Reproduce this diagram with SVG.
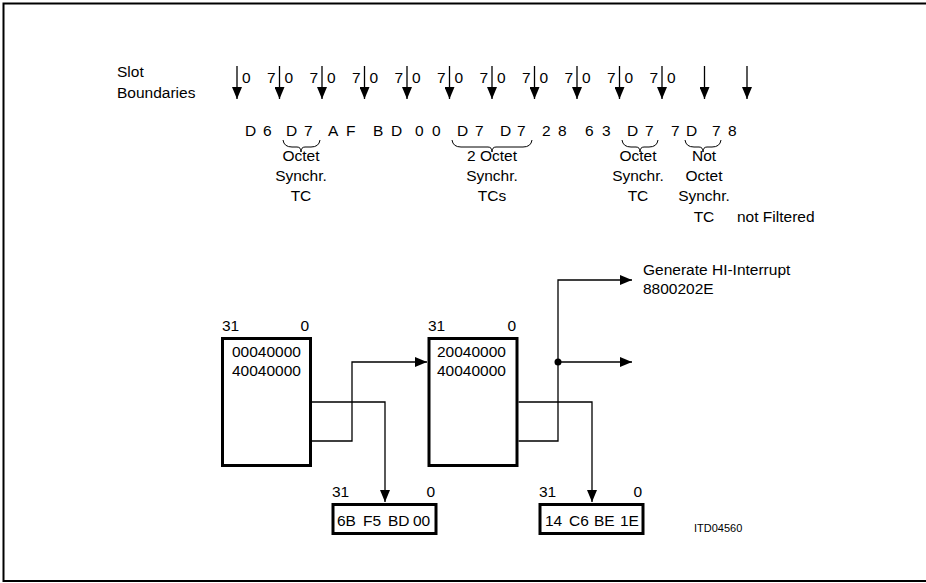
<svg xmlns="http://www.w3.org/2000/svg" width="926" height="583" viewBox="0 0 926 583">
<style>
text{font-family:"Liberation Sans",Arial,sans-serif;font-size:15.5px;fill:#000}
.d{font-size:16px}
.c{text-anchor:middle}
.e{text-anchor:end}
.box{fill:#fff;stroke:#000;stroke-width:3}
.ln{fill:none;stroke:#000;stroke-width:1.3}
.br{fill:none;stroke:#000;stroke-width:1}
</style>
<defs>
<marker id="ah" viewBox="0 0 12 10" refX="12" refY="5" markerWidth="12" markerHeight="10" orient="auto" markerUnits="userSpaceOnUse"><path d="M0,0L12,5L0,10z" fill="#000"/></marker>
</defs>
<path d="M926,3.5H3.5V581H926" fill="none" stroke="#000" stroke-width="2"/>
<g id="slot-label"><text x="117" y="77">Slot</text><text x="117" y="98">Boundaries</text></g>
<g id="slot-arrows" class="ln">
<line x1="237" y1="66" x2="237" y2="99" marker-end="url(#ah)"/>
<line x1="279.5" y1="66" x2="279.5" y2="99" marker-end="url(#ah)"/>
<line x1="322" y1="66" x2="322" y2="99" marker-end="url(#ah)"/>
<line x1="364.5" y1="66" x2="364.5" y2="99" marker-end="url(#ah)"/>
<line x1="407" y1="66" x2="407" y2="99" marker-end="url(#ah)"/>
<line x1="449.5" y1="66" x2="449.5" y2="99" marker-end="url(#ah)"/>
<line x1="492" y1="66" x2="492" y2="99" marker-end="url(#ah)"/>
<line x1="534.5" y1="66" x2="534.5" y2="99" marker-end="url(#ah)"/>
<line x1="577" y1="66" x2="577" y2="99" marker-end="url(#ah)"/>
<line x1="619.5" y1="66" x2="619.5" y2="99" marker-end="url(#ah)"/>
<line x1="662" y1="66" x2="662" y2="99" marker-end="url(#ah)"/>
<line x1="704.5" y1="66" x2="704.5" y2="99" marker-end="url(#ah)"/>
<line x1="747" y1="66" x2="747" y2="99" marker-end="url(#ah)"/>
</g>
<g id="slot-digits" class="d">
<text x="242" y="83">0</text>
<text x="275.5" y="83" class="e">7</text><text x="284.5" y="83">0</text>
<text x="318" y="83" class="e">7</text><text x="327" y="83">0</text>
<text x="360.5" y="83" class="e">7</text><text x="369.5" y="83">0</text>
<text x="403" y="83" class="e">7</text><text x="412" y="83">0</text>
<text x="445.5" y="83" class="e">7</text><text x="454.5" y="83">0</text>
<text x="488" y="83" class="e">7</text><text x="497" y="83">0</text>
<text x="530.5" y="83" class="e">7</text><text x="539.5" y="83">0</text>
<text x="573" y="83" class="e">7</text><text x="582" y="83">0</text>
<text x="615.5" y="83" class="e">7</text><text x="624.5" y="83">0</text>
<text x="658" y="83" class="e">7</text><text x="667" y="83">0</text>
</g>
<g id="hex-row" class="d">
<text y="136"><tspan x="245">D</tspan><tspan x="263">6</tspan><tspan x="286">D</tspan><tspan x="304">7</tspan><tspan x="328">A</tspan><tspan x="346">F</tspan><tspan x="373">B</tspan><tspan x="391">D</tspan><tspan x="415">0</tspan><tspan x="432">0</tspan><tspan x="457">D</tspan><tspan x="475">7</tspan><tspan x="500">D</tspan><tspan x="517">7</tspan><tspan x="542">2</tspan><tspan x="558">8</tspan><tspan x="585">6</tspan><tspan x="602">3</tspan><tspan x="627">D</tspan><tspan x="645">7</tspan><tspan x="671">7</tspan><tspan x="686">D</tspan><tspan x="712">7</tspan><tspan x="728">8</tspan></text>
</g>
<g id="braces" class="br">
<path d="M283,140q1,7 9,7h5q4,0 4,5q0,-5 4,-5h6q8,0 9,-7"/>
<path d="M452,140q1,7 9,7h27q4,0 4,5q0,-5 4,-5h27q8,0 9,-7"/>
<path d="M622,140q1,7 9,7h5q4,0 4,5q0,-5 4,-5h5q8,0 9,-7"/>
<path d="M685,140q1,7 9,7h5q4,0 4,5q0,-5 4,-5h5q8,0 9,-7"/>
</g>
<g id="tc1"><text class="c" x="301" y="161">Octet</text><text class="c" x="301" y="181">Synchr.</text><text class="c" x="301" y="201">TC</text></g>
<g id="tc2"><text class="c" x="492" y="161">2 Octet</text><text class="c" x="492" y="181">Synchr.</text><text class="c" x="492" y="201">TCs</text></g>
<g id="tc3"><text class="c" x="638" y="161">Octet</text><text class="c" x="638" y="181">Synchr.</text><text class="c" x="638" y="201">TC</text></g>
<g id="tc4"><text class="c" x="704" y="161">Not</text><text class="c" x="704" y="181">Octet</text><text class="c" x="704" y="201">Synchr.</text><text class="c" x="704" y="222">TC</text></g>
<text x="737" y="222">not Filtered</text>
<g id="reg1"><rect class="box" x="222.5" y="338.5" width="88" height="127"/><text x="222" y="331">31</text><text x="309" y="331" class="e">0</text><text x="232" y="357">00040000</text><text x="232" y="376">40040000</text></g>
<g id="reg2"><rect class="box" x="429" y="338.5" width="88" height="127"/><text x="428" y="331">31</text><text x="516" y="331" class="e">0</text><text x="437" y="357">20040000</text><text x="437" y="376">40040000</text></g>
<g id="out1"><rect class="box" x="333" y="504.5" width="103" height="29"/><text x="332" y="497">31</text><text x="435" y="497" class="e">0</text><text y="526"><tspan x="337">6B</tspan><tspan x="363">F5</tspan><tspan x="388">BD</tspan><tspan x="413">00</tspan></text></g>
<g id="out2"><rect class="box" x="540" y="504.5" width="103" height="29"/><text x="539" y="497">31</text><text x="642" y="497" class="e">0</text><text y="526"><tspan x="545">14</tspan><tspan x="569">C6</tspan><tspan x="594">BE</tspan><tspan x="620">1E</tspan></text></g>
<g id="hi"><text x="643" y="275">Generate HI-Interrupt</text><text x="643" y="294">8800202E</text></g>
<g id="connectors" class="ln">
<path d="M312,402H385V502" marker-end="url(#ah)"/>
<path d="M312,441H352V362H427" marker-end="url(#ah)"/>
<path d="M518.5,402H592V502" marker-end="url(#ah)"/>
<path d="M518.5,441H558V280H632" marker-end="url(#ah)"/>
<path d="M558,362H632" marker-end="url(#ah)"/>
<circle cx="558" cy="362" r="3.5" fill="#000" stroke="none"/>
</g>
<text x="694" y="532" style="font-size:11px">ITD04560</text>
</svg>
